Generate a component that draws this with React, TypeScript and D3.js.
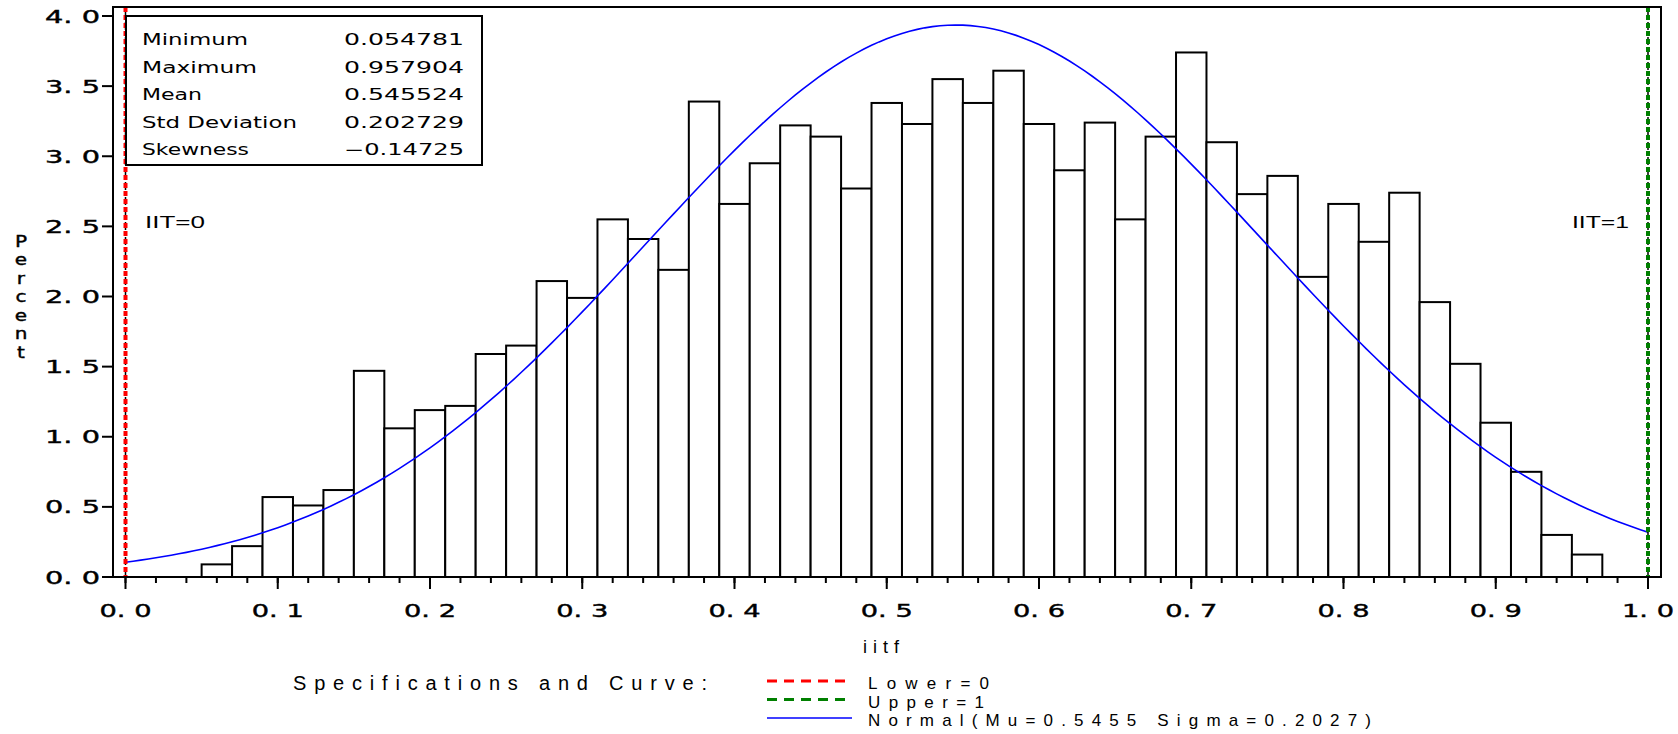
import React from "react";
import * as d3 from "d3";

const BIN_MIDPOINTS = [
  0.06, 0.08, 0.1, 0.12, 0.14, 0.16, 0.18, 0.2, 0.22, 0.24, 0.26, 0.28, 0.3, 0.32, 0.34, 0.36,
  0.38, 0.4, 0.42, 0.44, 0.46, 0.48, 0.5, 0.52, 0.54, 0.56, 0.58, 0.6, 0.62, 0.64, 0.66, 0.68,
  0.7, 0.72, 0.74, 0.76, 0.78, 0.8, 0.82, 0.84, 0.86, 0.88, 0.9, 0.92, 0.94, 0.96,
];
const PERCENT = [
  0.09, 0.22, 0.57, 0.51, 0.62, 1.47, 1.06, 1.19, 1.22, 1.59, 1.65, 2.11, 1.99, 2.55, 2.41, 2.19,
  3.39, 2.66, 2.95, 3.22, 3.14, 2.77, 3.38, 3.23, 3.55, 3.38, 3.61, 3.23, 2.9, 3.24, 2.55, 3.14,
  3.74, 3.1, 2.73, 2.86, 2.14, 2.66, 2.39, 2.74, 1.96, 1.52, 1.1, 0.75, 0.3, 0.16,
];
const BIN_WIDTH = 0.02;
const MU = 0.545524;
const SIGMA = 0.202729;
const LOWER = 0;
const UPPER = 1;
const X_TICKS = [0, 0.1, 0.2, 0.3, 0.4, 0.5, 0.6, 0.7, 0.8, 0.9, 1.0];
const X_TICK_LABELS = ["0. 0", "0. 1", "0. 2", "0. 3", "0. 4", "0. 5", "0. 6", "0. 7", "0. 8", "0. 9", "1. 0"];
const Y_TICKS = [0, 0.5, 1, 1.5, 2, 2.5, 3, 3.5, 4];
const Y_TICK_LABELS = ["0. 0", "0. 5", "1. 0", "1. 5", "2. 0", "2. 5", "3. 0", "3. 5", "4. 0"];
const STAT_NAMES = ["Minimum", "Maximum", "Mean", "Std Deviation", "Skewness"];
const STAT_VALUES = ["0.054781", "0.957904", "0.545524", "0.202729", "\u22120.14725"];
const STAT_NAME_WIDTHS = [106, 115, 60, 155, 107];
const LEGEND_LABELS = ["Lower=0", "Upper=1", "Normal(Mu=0.5455 Sigma=0.2027)"];
const LEGEND_WIDTHS = [121, 116, 503];

export default function App() {
  const W = 1678;
  const H = 734;
  const frame = { left: 113, top: 7, right: 1661, bottom: 577 };
  const x = d3.scaleLinear().domain([0, 1]).range([125.5, 1648]);
  const y = d3.scaleLinear().domain([0, 4]).range([577, 16]);

  const curveXs = d3.range(0, 1.0001, 0.005);
  const dens = (v: number) =>
    (100 * BIN_WIDTH) / (SIGMA * Math.sqrt(2 * Math.PI)) * Math.exp(-0.5 * ((v - MU) / SIGMA) ** 2);
  const line = d3
    .line<number>()
    .x((d) => x(d))
    .y((d) => y(dens(d)));

  const minorTicks = x.ticks(50);
  const tickFont = "'DejaVu Sans', sans-serif";
  const legendFont = "'Liberation Sans', Arial, sans-serif";

  return (
    <svg width={W} height={H} style={{ position: "absolute", left: 0, top: 0, background: "#fff" }}>
      <rect x={0} y={0} width={W} height={H} fill="#fff" />
      {/* bars */}
      {BIN_MIDPOINTS.map((m, i) => (
        <rect
          key={i}
          x={x(m - BIN_WIDTH / 2)}
          y={y(PERCENT[i])}
          width={x(m + BIN_WIDTH / 2) - x(m - BIN_WIDTH / 2)}
          height={y(0) - y(PERCENT[i])}
          fill="#fff"
          stroke="#000"
          strokeWidth={2}
        />
      ))}
      {/* normal curve */}
      <path d={line(curveXs) || ""} fill="none" stroke="#0000ff" strokeWidth={1.6} />
      {/* spec lines */}
      {[LOWER, UPPER].map((v, i) => (
        <g key={i}>
          <line x1={x(v)} x2={x(v)} y1={frame.top} y2={frame.bottom} stroke="#000" strokeWidth={1.5} strokeDasharray="3,2" />
          <line
            x1={x(v)}
            x2={x(v)}
            y1={frame.top}
            y2={frame.bottom}
            stroke={i === 0 ? "#ff0000" : "#008000"}
            strokeWidth={4}
            strokeDasharray="5,3"
          />
        </g>
      ))}
      {/* frame */}
      <rect
        x={frame.left}
        y={frame.top}
        width={frame.right - frame.left}
        height={frame.bottom - frame.top}
        fill="none"
        stroke="#000"
        strokeWidth={2}
      />
      {/* stats box */}
      <rect x={126} y={16} width={356} height={149} fill="#fff" stroke="#000" strokeWidth={2} />
      {STAT_NAMES.map((n, i) => (
        <g key={n}>
          <text
            x={142}
            y={45 + i * 27.5}
            fontFamily={tickFont}
            fontSize={15}
            textLength={STAT_NAME_WIDTHS[i]}
            lengthAdjust="spacingAndGlyphs"
          >
            {n}
          </text>
          <text
            x={464 - 120}
            y={45 + i * 27.5}
            fontFamily={tickFont}
            fontSize={15}
            textLength={120}
            lengthAdjust="spacingAndGlyphs"
          >
            {STAT_VALUES[i]}
          </text>
        </g>
      ))}
      {/* spec labels */}
      <text x={145} y={228} fontFamily={legendFont} fontSize={17} textLength={60} lengthAdjust="spacingAndGlyphs">
        IIT=0
      </text>
      <text x={1572} y={228} fontFamily={legendFont} fontSize={17} textLength={57} lengthAdjust="spacingAndGlyphs">
        IIT=1
      </text>
      {/* y axis */}
      {Y_TICKS.map((t, i) => (
        <g key={t}>
          <line x1={102} x2={frame.left} y1={y(t)} y2={y(t)} stroke="#000" strokeWidth={2} />
          <text
            x={45}
            y={y(t) + 6.5}
            fontFamily={tickFont}
            fontSize={18}
            stroke="#000"
            strokeWidth={0.4}
            textLength={55}
            lengthAdjust="spacingAndGlyphs"
          >
            {Y_TICK_LABELS[i]}
          </text>
        </g>
      ))}
      {/* y label */}
      {"Percent".split("").map((c, i) => (
        <text
          key={i}
          x={21}
          y={247 + i * 18.5}
          textAnchor="middle"
          fontFamily={tickFont}
          fontSize={16}
          stroke="#000"
          strokeWidth={0.4}
          transform={`translate(21,0) scale(1.25,1) translate(-21,0)`}
        >
          {c}
        </text>
      ))}
      {/* x axis */}
      {minorTicks.map((t, i) => (
        <line key={i} x1={x(t)} x2={x(t)} y1={frame.bottom} y2={frame.bottom + 6} stroke="#000" strokeWidth={2} />
      ))}
      {X_TICKS.map((t, i) => (
        <g key={t}>
          <line x1={x(t)} x2={x(t)} y1={frame.bottom} y2={frame.bottom + 12} stroke="#000" strokeWidth={2} />
          <text
            x={x(t) - 26}
            y={617}
            fontFamily={tickFont}
            fontSize={18}
            stroke="#000"
            strokeWidth={0.4}
            textLength={52}
            lengthAdjust="spacingAndGlyphs"
          >
            {X_TICK_LABELS[i]}
          </text>
        </g>
      ))}
      <text x={884} y={653} textAnchor="middle" fontFamily={legendFont} fontSize={18} letterSpacing={6}>
        iitf
      </text>
      {/* legend */}
      <text x={293} y={690} fontFamily={legendFont} fontSize={20} textLength={414} lengthAdjust="spacing">
        Specifications and Curve:
      </text>
      {LEGEND_LABELS.map((l, i) => (
        <g key={l}>
          <line
            x1={767}
            x2={852}
            y1={681 + i * 18.5}
            y2={681 + i * 18.5}
            stroke={i === 0 ? "#ff0000" : i === 1 ? "#008000" : "#0000ff"}
            strokeWidth={i === 2 ? 1.6 : 3}
            strokeDasharray={i === 2 ? undefined : "10,7"}
          />
          <text
            x={868}
            y={689 + i * 18.5}
            fontFamily={legendFont}
            fontSize={17}
            textLength={LEGEND_WIDTHS[i]}
            lengthAdjust="spacing"
          >
            {l}
          </text>
        </g>
      ))}
    </svg>
  );
}
